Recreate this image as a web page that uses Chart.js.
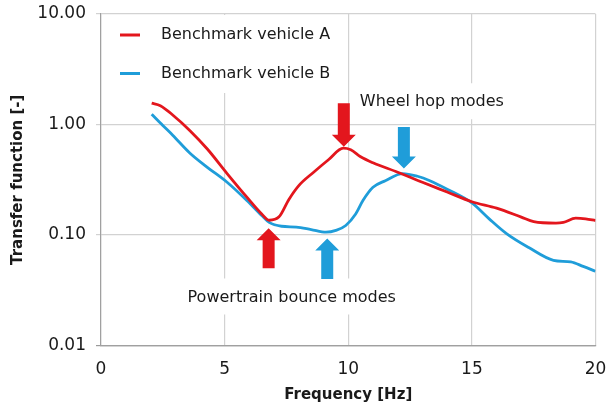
<!DOCTYPE html>
<html>
<head>
<meta charset="utf-8">
<script src="https://cdn.jsdelivr.net/npm/chart.js@4.4.0/dist/chart.umd.min.js"></script>
<style>
  html,body{margin:0;padding:0;background:#fff}
  #wrap{width:608px;height:410px;position:relative}
</style>
</head>
<body>
<div id="wrap"><canvas id="chart"></canvas></div>
<script>
// Data
const seriesNames = ['Benchmark vehicle A', 'Benchmark vehicle B'];
const seriesColors = ['#e3161d', '#1f9dd9'];

const freqA = [2.05, 2.4, 2.9, 3.6, 4.3, 5.1, 5.9, 6.5, 6.8, 7.2, 7.6, 8.0, 8.6, 9.2, 9.8, 10.1, 10.5, 11, 12, 13, 14, 15, 16, 17, 17.5, 18.4, 18.7, 19.2, 19.6, 20];
const valA  = [1.56, 1.48, 1.22, 0.88, 0.60, 0.36, 0.22, 0.155, 0.136, 0.146, 0.21, 0.28, 0.37, 0.48, 0.61, 0.59, 0.51, 0.45, 0.37, 0.30, 0.245, 0.20, 0.175, 0.145, 0.132, 0.128, 0.130, 0.142, 0.140, 0.135];

const freqB = [2.05, 2.5, 2.9, 3.6, 4.3, 5.1, 5.9, 6.5, 6.8, 7.3, 7.9, 8.5, 9.1, 9.5, 9.9, 10.3, 10.6, 11, 11.5, 12.2, 12.8, 13.3, 14, 15, 15.7, 16.4, 17.3, 18.3, 19, 19.5, 20];
const valB  = [1.24, 0.98, 0.80, 0.55, 0.41, 0.30, 0.205, 0.150, 0.130, 0.120, 0.118, 0.112, 0.106, 0.110, 0.122, 0.155, 0.206, 0.27, 0.31, 0.36, 0.34, 0.31, 0.26, 0.195, 0.14, 0.103, 0.077, 0.059, 0.057, 0.052, 0.047];

const xTicks = [0, 5, 10, 15, 20];
const yTicks = [0.01, 0.1, 1, 10];

// Mode arrows (frequency, tail value, tip value, series index)
const arrowFreq   = [9.82, 12.25, 6.78, 9.15];
const arrowTail   = [1.56, 0.95, 0.050, 0.040];
const arrowTip    = [0.63, 0.40, 0.115, 0.093];
const arrowSeries = [0, 1, 0, 1];

// Annotation texts (left frequency, centre value)
const noteText = ['Wheel hop modes', 'Powertrain bounce modes'];
const noteFreq = [10.47, 3.50];
const noteVal  = [1.59, 0.0272];

const toPoints = (xs, ys) => xs.map((x, i) => ({x: x, y: ys[i]}));

const FONT = "'DejaVu Sans', sans-serif";

// white boxes, arrows, notes and legend
const overlay = {
  id: 'overlay',
  beforeDatasetsDraw(chart) {
    const {ctx, chartArea: a, scales: {x, y}} = chart;
    ctx.save();
    ctx.fillStyle = '#fff';
    // legend box
    ctx.fillRect(a.left + 1, a.top + 1, 243, 78);
    // note boxes
    ctx.font = '16px ' + FONT;
    noteText.forEach((t, i) => {
      const w = ctx.measureText(t).width;
      const px = x.getPixelForValue(noteFreq[i]);
      const py = y.getPixelForValue(noteVal[i]);
      ctx.fillRect(px - 5, py - 19, w + 10, 36);
    });
    ctx.restore();
  },
  afterDatasetsDraw(chart) {
    const {ctx, chartArea: a, scales: {x, y}} = chart;
    ctx.save();
    // arrows
    arrowFreq.forEach((f, i) => {
      const cx = x.getPixelForValue(f);
      const y0 = y.getPixelForValue(arrowTail[i]);
      const y1 = y.getPixelForValue(arrowTip[i]);
      const dir = y1 > y0 ? 1 : -1;
      const head = 12, sw = 6, hw = 12;
      const yb = y1 - dir * head;
      ctx.fillStyle = seriesColors[arrowSeries[i]];
      ctx.beginPath();
      ctx.moveTo(cx - sw, y0);
      ctx.lineTo(cx + sw, y0);
      ctx.lineTo(cx + sw, yb);
      ctx.lineTo(cx + hw, yb);
      ctx.lineTo(cx, y1);
      ctx.lineTo(cx - hw, yb);
      ctx.lineTo(cx - sw, yb);
      ctx.closePath();
      ctx.fill();
    });
    // notes
    ctx.font = '16px ' + FONT;
    ctx.fillStyle = '#1a1a1a';
    ctx.textBaseline = 'middle';
    ctx.textAlign = 'left';
    noteText.forEach((t, i) => {
      ctx.fillText(t, x.getPixelForValue(noteFreq[i]), y.getPixelForValue(noteVal[i]));
    });
    // legend
    seriesNames.forEach((name, i) => {
      const ly = a.top + 21 + i * 38.5;
      ctx.strokeStyle = seriesColors[i];
      ctx.lineWidth = 3;
      ctx.beginPath();
      ctx.moveTo(a.left + 19, ly);
      ctx.lineTo(a.left + 39, ly);
      ctx.stroke();
      ctx.fillStyle = '#1a1a1a';
      ctx.fillText(name, a.left + 60, ly);
    });
    ctx.restore();
  }
};

const noPad = s => { s.paddingTop = 0; s.paddingBottom = 0; s.paddingLeft = 0; s.paddingRight = 0; };

new Chart(document.getElementById('chart'), {
  type: 'scatter',
  data: {
    datasets: [
      {label: seriesNames[0], data: toPoints(freqA, valA), borderColor: seriesColors[0]},
      {label: seriesNames[1], data: toPoints(freqB, valB), borderColor: seriesColors[1]}
    ]
  },
  options: {
    responsive: true,
    maintainAspectRatio: false,
    animation: false,
    showLine: true,
    layout: {padding: {top: 14, right: 12.5, bottom: 0, left: 0}},
    elements: {
      point: {radius: 0, hoverRadius: 0},
      line: {borderWidth: 2.8, cubicInterpolationMode: 'monotone', fill: false}
    },
    plugins: {legend: {display: false}, tooltip: {enabled: false}},
    scales: {
      x: {
        type: 'linear', min: 0, max: 20,
        afterBuildTicks: s => { s.ticks = xTicks.map(v => ({value: v})); },
        afterFit: s => { s.height = 64.5; noPad(s); },
        grid: {color: '#d2d2d2', drawTicks: false, lineWidth: 1.2},
        border: {color: '#a0a0a0', width: 1.2},
        ticks: {padding: 14, color: '#1a1a1a', font: {family: FONT, size: 17}},
        title: {display: true, text: 'Frequency [Hz]', color: '#1a1a1a',
                font: {family: FONT, size: 15, weight: 'bold'}, padding: {top: 0, bottom: 6}}
      },
      y: {
        type: 'logarithmic', min: 0.01, max: 10,
        afterBuildTicks: s => { s.ticks = yTicks.map(v => ({value: v})); },
        afterFit: s => { s.width = 101; noPad(s); },
        grid: {
          color: c => c.tick && c.tick.value === 0.01 ? '#9a9a9a' : '#d2d2d2',
          lineWidth: 1.2, drawTicks: true, tickLength: 5
        },
        border: {color: '#a0a0a0', width: 1.2},
        ticks: {padding: 10, color: '#1a1a1a', font: {family: FONT, size: 17},
                callback: v => Number(v).toFixed(2)},
        title: {display: true, text: 'Transfer function [-]', color: '#1a1a1a',
                font: {family: FONT, size: 15, weight: 'bold'}, padding: {top: 9, bottom: 0}}
      }
    }
  },
  plugins: [overlay]
});
</script>
</body>
</html>
